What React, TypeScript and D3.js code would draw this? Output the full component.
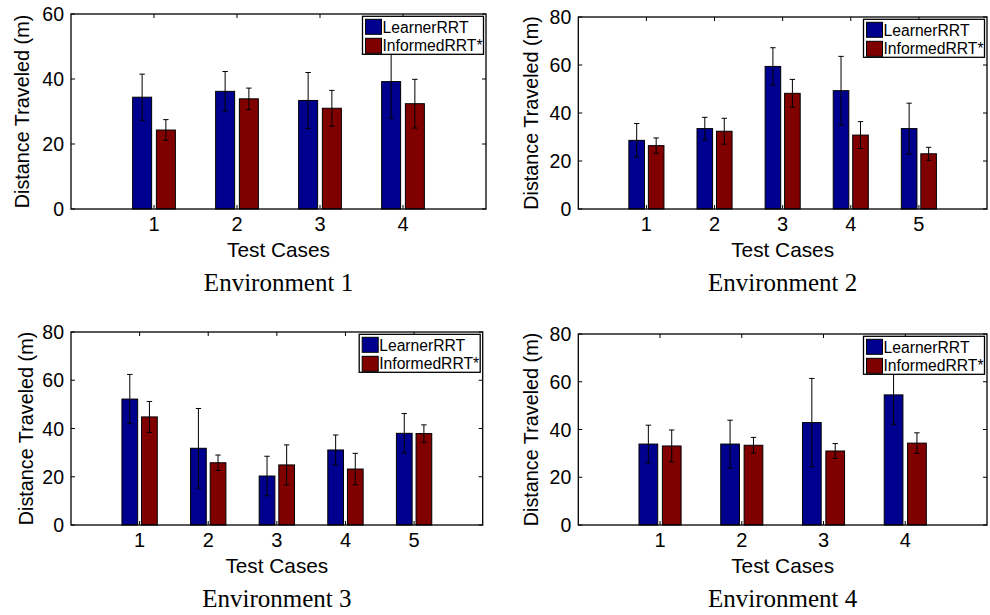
import React from "react";
import * as d3 from "d3";

const seriesNames = ["LearnerRRT", "InformedRRT*"];
const seriesColors = ["#00008F", "#800000"];

const env1Cases = [1, 2, 3, 4];
const env1Learner = [34.4, 36.2, 33.4, 39.2];
const env1LearnerErr = [7.1, 6.1, 8.6, 11.3];
const env1Informed = [24.3, 33.9, 31.0, 32.4];
const env1InformedErr = [3.2, 3.3, 5.5, 7.5];

const env2Cases = [1, 2, 3, 4, 5];
const env2Learner = [28.6, 33.5, 59.4, 49.3, 33.5];
const env2LearnerErr = [7.0, 4.7, 7.8, 14.3, 10.6];
const env2Informed = [26.4, 32.4, 48.2, 30.8, 23.0];
const env2InformedErr = [3.2, 5.4, 5.8, 5.6, 2.7];

const env3Cases = [1, 2, 3, 4, 5];
const env3Learner = [52.2, 31.8, 20.3, 31.1, 38.0];
const env3LearnerErr = [10.2, 16.5, 8.2, 6.2, 8.2];
const env3Informed = [44.8, 25.8, 24.9, 23.2, 37.9];
const env3InformedErr = [6.4, 3.2, 8.3, 6.5, 3.6];

const env4Cases = [1, 2, 3, 4];
const env4Learner = [33.9, 33.9, 42.9, 54.5];
const env4LearnerErr = [7.9, 10.0, 18.5, 12.3];
const env4Informed = [33.1, 33.4, 31.0, 34.3];
const env4InformedErr = [6.7, 3.3, 3.1, 4.3];

const ticks60 = [0, 20, 40, 60];
const ticks80 = [0, 20, 40, 60, 80];

const panels = [
  { title: "Environment 1", cases: env1Cases, vals: [env1Learner, env1Informed], errs: [env1LearnerErr, env1InformedErr], yTicks: ticks60, box: [71, 486, 14, 209], ylx: 21.5 },
  { title: "Environment 2", cases: env2Cases, vals: [env2Learner, env2Informed], errs: [env2LearnerErr, env2InformedErr], yTicks: ticks80, box: [578.3, 987, 17, 209], ylx: 530.5 },
  { title: "Environment 3", cases: env3Cases, vals: [env3Learner, env3Informed], errs: [env3LearnerErr, env3InformedErr], yTicks: ticks80, box: [71, 482.7, 332, 525], ylx: 26 },
  { title: "Environment 4", cases: env4Cases, vals: [env4Learner, env4Informed], errs: [env4LearnerErr, env4InformedErr], yTicks: ticks80, box: [578.3, 987, 334, 525], ylx: 530.8 },
];

const SANS = "'Liberation Sans', Arial, Helvetica, sans-serif";
const SERIF = "'Liberation Serif', 'Times New Roman', serif";

function Panel({ p }: { p: any }) {
  const [x0, x1, y0, y1] = p.box;
  const n = p.cases.length;
  const x = d3.scaleLinear().domain([0, n + 1]).range([x0, x1]);
  const y = d3.scaleLinear().domain([0, p.yTicks[p.yTicks.length - 1]]).range([y1, y0]);
  const bw = 0.229;
  const offs = [-0.143, 0.143];
  const tl = 4;
  const cx = (x0 + x1) / 2;
  const lw = 121, lh = 38;
  const lx = x1 - 2.5 - lw;
  const ly = y0 + 2.3;
  return (
    <g>
      {p.cases.map((c: number, i: number) =>
        [0, 1].map((s) => {
          const v = p.vals[s][i];
          const e = p.errs[s][i];
          const bx = x(c + offs[s] - bw / 2);
          const bxe = x(c + offs[s] + bw / 2);
          const mx = x(c + offs[s]);
          return (
            <g key={`${c}-${s}`}>
              <rect x={bx} y={y(v)} width={bxe - bx} height={y(0) - y(v)} fill={seriesColors[s]} stroke="#000" strokeWidth={1} />
              <line x1={mx} x2={mx} y1={y(v + e)} y2={y(v - e)} stroke="#000" strokeWidth={1} />
              <line x1={mx - 2.7} x2={mx + 2.7} y1={y(v + e)} y2={y(v + e)} stroke="#000" strokeWidth={1} />
              <line x1={mx - 2.7} x2={mx + 2.7} y1={y(v - e)} y2={y(v - e)} stroke="#000" strokeWidth={1} />
            </g>
          );
        })
      )}
      <rect x={x0} y={y0} width={x1 - x0} height={y1 - y0} fill="none" stroke="#000" strokeWidth={1.3} />
      {p.cases.map((c: number) => (
        <g key={`xt${c}`}>
          <line x1={x(c)} x2={x(c)} y1={y1} y2={y1 - tl} stroke="#000" />
          <line x1={x(c)} x2={x(c)} y1={y0} y2={y0 + tl} stroke="#000" />
          <text x={x(c)} y={y1 + 22} textAnchor="middle" fontFamily={SANS} fontSize={20}>{c}</text>
        </g>
      ))}
      {p.yTicks.map((t: number) => (
        <g key={`yt${t}`}>
          <line x1={x0} x2={x0 + tl} y1={y(t)} y2={y(t)} stroke="#000" />
          <line x1={x1} x2={x1 - tl} y1={y(t)} y2={y(t)} stroke="#000" />
          <text x={x0 - 7} y={y(t)} dy="0.36em" textAnchor="end" fontFamily={SANS} fontSize={19.5}>{t}</text>
        </g>
      ))}
      <text x={cx} y={y1 + 48} textAnchor="middle" fontFamily={SANS} fontSize={20.8}>Test Cases</text>
      <text transform={`translate(${p.ylx},${(y0 + y1) / 2}) rotate(-90)`} dy="0.36em" textAnchor="middle" fontFamily={SANS} fontSize={19.8}>Distance Traveled (m)</text>
      <text x={cx} y={y1 + 82} textAnchor="middle" fontFamily={SERIF} fontSize={25}>{p.title}</text>
      <g>
        <rect x={lx} y={ly} width={lw} height={lh} fill="#fff" stroke="#000" strokeWidth={1.3} />
        {seriesNames.map((name, s) => (
          <g key={name}>
            <rect x={lx + 3} y={ly + 3 + s * 19} width={16} height={15} fill={seriesColors[s]} stroke="#000" strokeWidth={1} />
            <text x={lx + 20} y={ly + 16.5 + s * 18} fontFamily={SANS} fontSize={16} textLength={s === 0 ? 86 : 100} lengthAdjust="spacingAndGlyphs">{name}</text>
          </g>
        ))}
      </g>
    </g>
  );
}

export default function App() {
  return (
    <svg width={990} height={615} style={{ position: "absolute", left: 0, top: 0, background: "#fff" }}>
      <rect width={990} height={615} fill="#fff" />
      {panels.map((p) => (
        <Panel key={p.title} p={p} />
      ))}
    </svg>
  );
}
